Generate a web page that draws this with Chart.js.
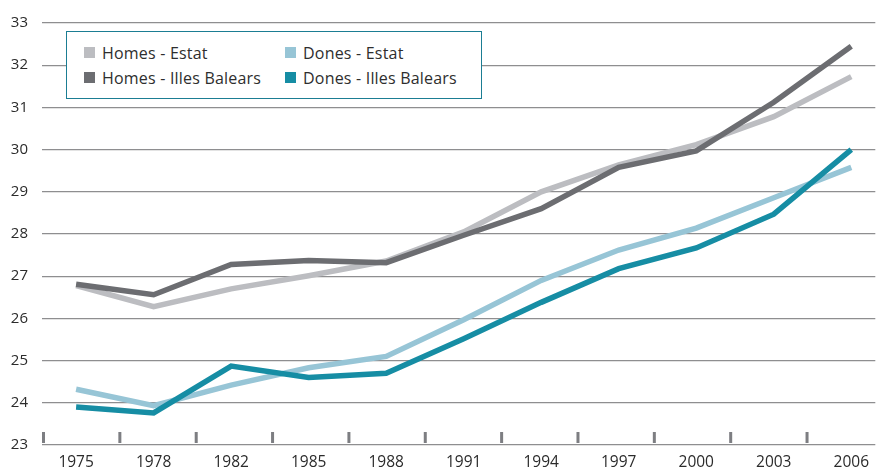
<!DOCTYPE html>
<html>
<head>
<meta charset="utf-8">
<script src="https://cdn.jsdelivr.net/npm/chart.js@4/dist/chart.umd.min.js"></script>
<style>
  html, body { margin: 0; padding: 0; background: #fff; overflow: hidden; }
  #wrap { position: relative; width: 877px; height: 471px; }
  #legend {
    position: absolute; left: 66px; top: 31px; width: 416px; height: 68px;
    border: 1.5px solid #1b7d93; background: #fff;
    display: grid; grid-template-rows: 25px 25px; grid-auto-flow: column;
    grid-template-columns: 201px 200px; padding: 8px 0 0 17px; box-sizing: border-box;
    font-family: "Open Sans", sans-serif; font-size: 16px; color: #2e2e2e; letter-spacing: 0.2px;
  }
  .item { display: flex; align-items: center; height: 25px; white-space: nowrap; }
  .sw { width: 11px; height: 11px; margin-right: 7px; flex: none; }
</style>
</head>
<body>
<div id="wrap">
  <canvas id="c" width="877" height="471"></canvas>
  <div id="legend"></div>
</div>
<script>
const years = ['1975','1978','1982','1985','1988','1991','1994','1997','2000','2003','2006'];
const homesEstat = [26.78, 26.28, 26.70, 27.01, 27.36, 28.05, 29.00, 29.64, 30.12, 30.78, 31.73];
const homesIB    = [26.81, 26.56, 27.28, 27.37, 27.32, 27.97, 28.60, 29.58, 29.97, 31.12, 32.45];
const donesEstat = [24.32, 23.93, 24.42, 24.83, 25.10, 25.97, 26.90, 27.62, 28.14, 28.86, 29.58];
const donesIB    = [23.90, 23.76, 24.87, 24.60, 24.70, 25.52, 26.38, 27.18, 27.67, 28.47, 30.00];
const seriesLabels = ['Homes - Estat', 'Homes - Illes Balears', 'Dones - Estat', 'Dones - Illes Balears'];
const seriesColors = ['#bcbdc1', '#6c6d71', '#97c5d6', '#168da4'];
const yTicks = [23, 24, 25, 26, 27, 28, 29, 30, 31, 32, 33];

const allSeries = [homesEstat, homesIB, donesEstat, donesIB];
const drawOrder = [1, 0, 1, 0];

const datasets = allSeries.map((vals, k) => ({
  label: seriesLabels[k],
  data: vals.map((v, i) => ({ x: i, y: v })),
  borderColor: seriesColors[k],
  backgroundColor: seriesColors[k],
  borderWidth: 5.5,
  pointRadius: 0,
  tension: 0,
  borderJoinStyle: 'miter',
  borderCapStyle: 'butt',
  order: drawOrder[k],
  fill: false
}));

// small separator bars along the bottom axis, between the year categories
const tickBars = {
  id: 'tickBars',
  beforeDatasetsDraw(chart) {
    const { ctx, scales: { x }, chartArea } = chart;
    ctx.save();
    ctx.fillStyle = '#7d7e82';
    years.forEach((_, i) => {
      const px = x.getPixelForValue(x.min + i * 0.985);
      ctx.fillRect(px, chartArea.bottom - 13, 3, 11);
    });
    ctx.restore();
  }
};

const chart = new Chart(document.getElementById('c'), {
  type: 'line',
  data: { datasets },
  plugins: [tickBars],
  options: {
    responsive: false,
    animation: false,
    layout: { padding: { top: 21, right: 0, left: 0, bottom: 0 } },
    plugins: { legend: { display: false }, tooltip: { enabled: false } },
    scales: {
      x: {
        type: 'linear',
        min: -0.44,
        max: 10.31,
        afterBuildTicks: s => { s.ticks = years.map((_, i) => ({ value: i })); },
        afterFit: s => { s.height = 26; },
        grid: { display: false, drawTicks: false },
        border: { display: false },
        ticks: {
          autoSkip: false,
          maxRotation: 0,
          padding: 8,
          color: '#2b2b2b',
          font: { family: 'Open Sans', size: 15.5 },
          callback: v => years[v] ?? ''
        }
      },
      y: {
        min: 23,
        max: 33,
        afterBuildTicks: s => { s.ticks = yTicks.map(v => ({ value: v })); },
        afterFit: s => { s.width = 42; },
        grid: { color: '#8e8e90', lineWidth: 1.3, drawTicks: false },
        border: { display: false },
        ticks: {
          padding: 14,
          color: '#2b2b2b',
          font: { family: 'Open Sans', size: 15 }
        }
      }
    }
  }
});

const legend = document.getElementById('legend');
chart.data.datasets.forEach(ds => {
  const it = document.createElement('div');
  it.className = 'item';
  const sw = document.createElement('span');
  sw.className = 'sw';
  sw.style.background = ds.borderColor;
  const tx = document.createElement('span');
  tx.textContent = ds.label;
  it.appendChild(sw);
  it.appendChild(tx);
  legend.appendChild(it);
});
</script>
</body>
</html>
